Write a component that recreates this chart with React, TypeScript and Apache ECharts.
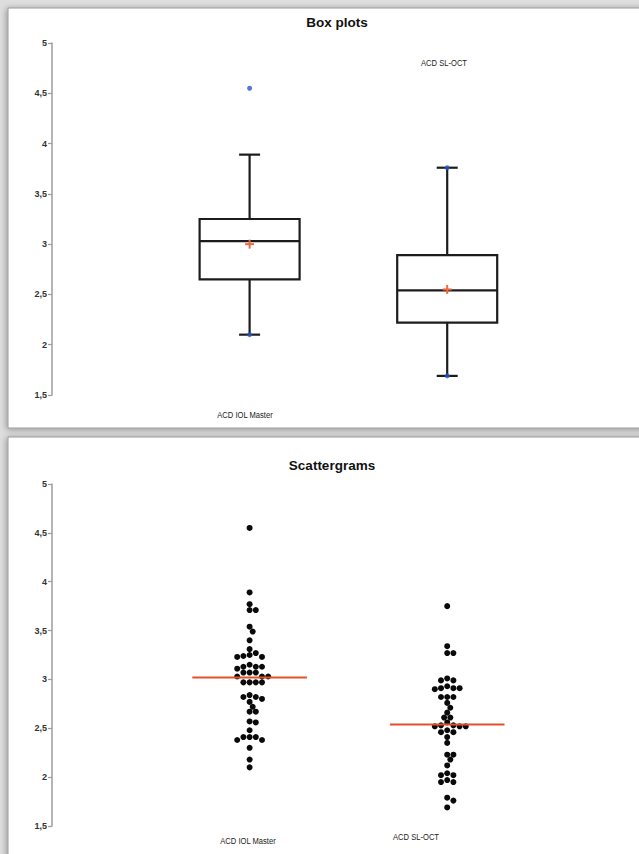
import React, { useEffect, useRef } from "react";
import * as echarts from "echarts";

const groupNames = ["ACD IOL Master", "ACD SL-OCT"];
const groupPos = [1, 2];

const boxMin = [2.1, 1.69];
const boxQ1 = [2.65, 2.22];
const boxMedian = [3.03, 2.54];
const boxQ3 = [3.25, 2.89];
const boxMax = [3.89, 3.76];
const boxMean = [3.0, 2.55];
const extremePoints = [
  [1, 4.55],
  [1, 2.1],
  [2, 3.76],
  [2, 1.69],
];

const iolValues = [
  4.55, 3.89, 3.77, 3.71, 3.71, 3.54, 3.49, 3.4, 3.31, 3.27, 3.25, 3.24, 3.23, 3.23, 3.15, 3.13,
  3.13, 3.13, 3.11, 3.07, 3.07, 3.07, 3.03, 3.03, 3.03, 2.97, 2.97, 2.97, 2.97, 2.84, 2.82, 2.82,
  2.8, 2.77, 2.72, 2.67, 2.67, 2.57, 2.56, 2.48, 2.41, 2.41, 2.41, 2.38, 2.38, 2.3, 2.18, 2.1,
];
const octValues = [
  3.75, 3.34, 3.27, 3.27, 3.01, 2.99, 2.99, 2.93, 2.91, 2.91, 2.91, 2.9, 2.82, 2.82, 2.82, 2.76,
  2.71, 2.66, 2.61, 2.61, 2.56, 2.53, 2.53, 2.52, 2.52, 2.52, 2.48, 2.46, 2.46, 2.41, 2.35, 2.23,
  2.23, 2.18, 2.12, 2.04, 2.02, 2.02, 1.97, 1.95, 1.95, 1.79, 1.76, 1.69,
];
const scatterMedian = [3.02, 2.54];

const yTicks = { min: 1.5, max: 5, interval: 0.5 };

// beeswarm offset (px) computed from values
function dodge(values: number[], pxPerUnit: number, d: number): number[] {
  const placed: { x: number; y: number }[] = [];
  const order = values.map((_, i) => i).sort((a, b) => values[b] - values[a]);
  const out = new Array(values.length).fill(0);
  for (const i of order) {
    const y = values[i] * pxPerUnit;
    for (let k = 0; k < 40; k++) {
      const slot = k === 0 ? 0 : k % 2 ? Math.ceil(k / 2) : -k / 2;
      const x = slot * d * 0.5;
      const ok = placed.every((p) => Math.hypot(p.x - x, p.y - y) >= d * 0.9);
      if (ok) {
        placed.push({ x, y });
        out[i] = x;
        break;
      }
    }
  }
  return out;
}

const FONT = "'Liberation Sans', Arial, sans-serif";

export default function App() {
  const ref = useRef<HTMLDivElement>(null);
  useEffect(() => {
    if (!ref.current) return;
    const chart = echarts.init(ref.current, null, { renderer: "svg" });
    const dotD = 6.2;
    const iolDx = dodge(iolValues, 97.7, dotD);
    const octDx = dodge(octValues, 97.7, dotD);
    const scatterData: number[][] = [];
    iolValues.forEach((v, i) => scatterData.push([groupPos[0], v, iolDx[i]]));
    octValues.forEach((v, i) => scatterData.push([groupPos[1], v, octDx[i]]));

    const boxData = groupPos.map((p, i) => [p, boxMin[i], boxQ1[i], boxMedian[i], boxQ3[i], boxMax[i]]);
    const meanData = groupPos.map((p, i) => [p, boxMean[i]]);
    const medLineData = groupPos.map((p, i) => [p, scatterMedian[i]]);

    const yAxisCommon = {
      type: "value",
      min: yTicks.min,
      max: yTicks.max,
      interval: yTicks.interval,
      axisLine: { show: true, lineStyle: { color: "#9c9c9c", width: 1.5 } },
      axisTick: { show: true, length: 4, lineStyle: { color: "#9c9c9c", width: 1.2 } },
      splitLine: { show: false },
      axisLabel: {
        color: "#333",
        fontSize: 9,
        fontWeight: "bold",
        fontFamily: FONT,
        margin: 5,
        formatter: (v: number) => String(v).replace(".", ","),
      },
    };
    const xAxisCommon = { type: "value", min: 0, max: 2.5, show: false };

    const label = (text: string, x: number, y: number) => ({
      type: "text",
      x,
      y,
      scaleX: 0.8,
      style: { text, fontSize: 9.5, fontFamily: FONT, fill: "#222", align: "center", verticalAlign: "middle" },
    });

    const option: any = {
      animation: false,
      backgroundColor: "#dedede",
      grid: [
        { left: 52, top: 43, width: 494, height: 352 },
        { left: 52, top: 484, width: 494, height: 342 },
      ],
      xAxis: [
        { ...xAxisCommon, gridIndex: 0 },
        { ...xAxisCommon, gridIndex: 1 },
      ],
      yAxis: [
        { ...yAxisCommon, gridIndex: 0 },
        { ...yAxisCommon, gridIndex: 1 },
      ],
      graphic: [
        {
          type: "rect",
          z: -10,
          shape: { x: 8, y: 8, width: 640, height: 420 },
          style: { fill: "#ffffff", stroke: "#9a9a9a", lineWidth: 1, shadowBlur: 6, shadowColor: "rgba(0,0,0,0.35)", shadowOffsetX: -1, shadowOffsetY: 1 },
        },
        {
          type: "rect",
          z: -10,
          shape: { x: 8, y: 437, width: 640, height: 430 },
          style: { fill: "#ffffff", stroke: "#9a9a9a", lineWidth: 1, shadowBlur: 6, shadowColor: "rgba(0,0,0,0.35)", shadowOffsetX: -1, shadowOffsetY: 1 },
        },
        {
          type: "text",
          x: 337,
          y: 22,
          style: { text: "Box plots", fontSize: 13.5, fontWeight: "bold", fontFamily: FONT, fill: "#111", align: "center", verticalAlign: "middle" },
        },
        {
          type: "text",
          x: 332,
          y: 465,
          style: { text: "Scattergrams", fontSize: 13.5, fontWeight: "bold", fontFamily: FONT, fill: "#111", align: "center", verticalAlign: "middle" },
        },
        label(groupNames[1], 444, 63),
        label(groupNames[0], 245, 415),
        label(groupNames[0], 248, 841),
        label(groupNames[1], 416, 837),
      ],
      series: [
        {
          type: "custom",
          xAxisIndex: 0,
          yAxisIndex: 0,
          data: boxData,
          renderItem: (params: any, api: any) => {
            const x = api.value(0);
            const pMin = api.coord([x, api.value(1)]);
            const pQ1 = api.coord([x, api.value(2)]);
            const pMd = api.coord([x, api.value(3)]);
            const pQ3 = api.coord([x, api.value(4)]);
            const pMax = api.coord([x, api.value(5)]);
            const cx = pMd[0];
            const hw = 50;
            const cw = 10.5;
            const st = { stroke: "#1c1c1c", lineWidth: 2.2, fill: "none" };
            return {
              type: "group",
              children: [
                { type: "line", shape: { x1: cx, y1: pQ3[1], x2: cx, y2: pMax[1] }, style: st },
                { type: "line", shape: { x1: cx, y1: pQ1[1], x2: cx, y2: pMin[1] }, style: st },
                { type: "line", shape: { x1: cx - cw, y1: pMax[1], x2: cx + cw, y2: pMax[1] }, style: st },
                { type: "line", shape: { x1: cx - cw, y1: pMin[1], x2: cx + cw, y2: pMin[1] }, style: st },
                { type: "rect", shape: { x: cx - hw, y: pQ3[1], width: hw * 2, height: pQ1[1] - pQ3[1] }, style: st },
                { type: "line", shape: { x1: cx - hw, y1: pMd[1], x2: cx + hw, y2: pMd[1] }, style: st },
              ],
            };
          },
        },
        {
          type: "scatter",
          xAxisIndex: 0,
          yAxisIndex: 0,
          data: extremePoints,
          symbol: "circle",
          symbolSize: 5,
          itemStyle: { color: "#2b55c8" },
          z: 5,
        },
        {
          type: "custom",
          xAxisIndex: 0,
          yAxisIndex: 0,
          data: meanData,
          z: 6,
          renderItem: (params: any, api: any) => {
            const p = api.coord([api.value(0), api.value(1)]);
            const s = 4.5;
            const st = { stroke: "#ee6a40", lineWidth: 2 };
            return {
              type: "group",
              children: [
                { type: "line", shape: { x1: p[0] - s, y1: p[1], x2: p[0] + s, y2: p[1] }, style: st },
                { type: "line", shape: { x1: p[0], y1: p[1] - s, x2: p[0], y2: p[1] + s }, style: st },
              ],
            };
          },
        },
        {
          type: "custom",
          xAxisIndex: 1,
          yAxisIndex: 1,
          data: scatterData,
          renderItem: (params: any, api: any) => {
            const p = api.coord([api.value(0), api.value(1)]);
            return {
              type: "circle",
              shape: { cx: p[0] + api.value(2), cy: p[1], r: 3 },
              style: { fill: "#0a0a0a" },
            };
          },
        },
        {
          type: "custom",
          xAxisIndex: 1,
          yAxisIndex: 1,
          data: medLineData,
          z: 6,
          renderItem: (params: any, api: any) => {
            const a = api.coord([api.value(0) - 0.29, api.value(1)]);
            const b = api.coord([api.value(0) + 0.29, api.value(1)]);
            return {
              type: "line",
              shape: { x1: a[0], y1: a[1], x2: b[0], y2: b[1] },
              style: { stroke: "#e2502c", lineWidth: 2 },
            };
          },
        },
      ],
    };
    chart.setOption(option);
    return () => chart.dispose();
  }, []);
  return (
    <div
      ref={ref}
      style={{ position: "absolute", left: 0, top: 0, width: 639, height: 854 }}
    />
  );
}
